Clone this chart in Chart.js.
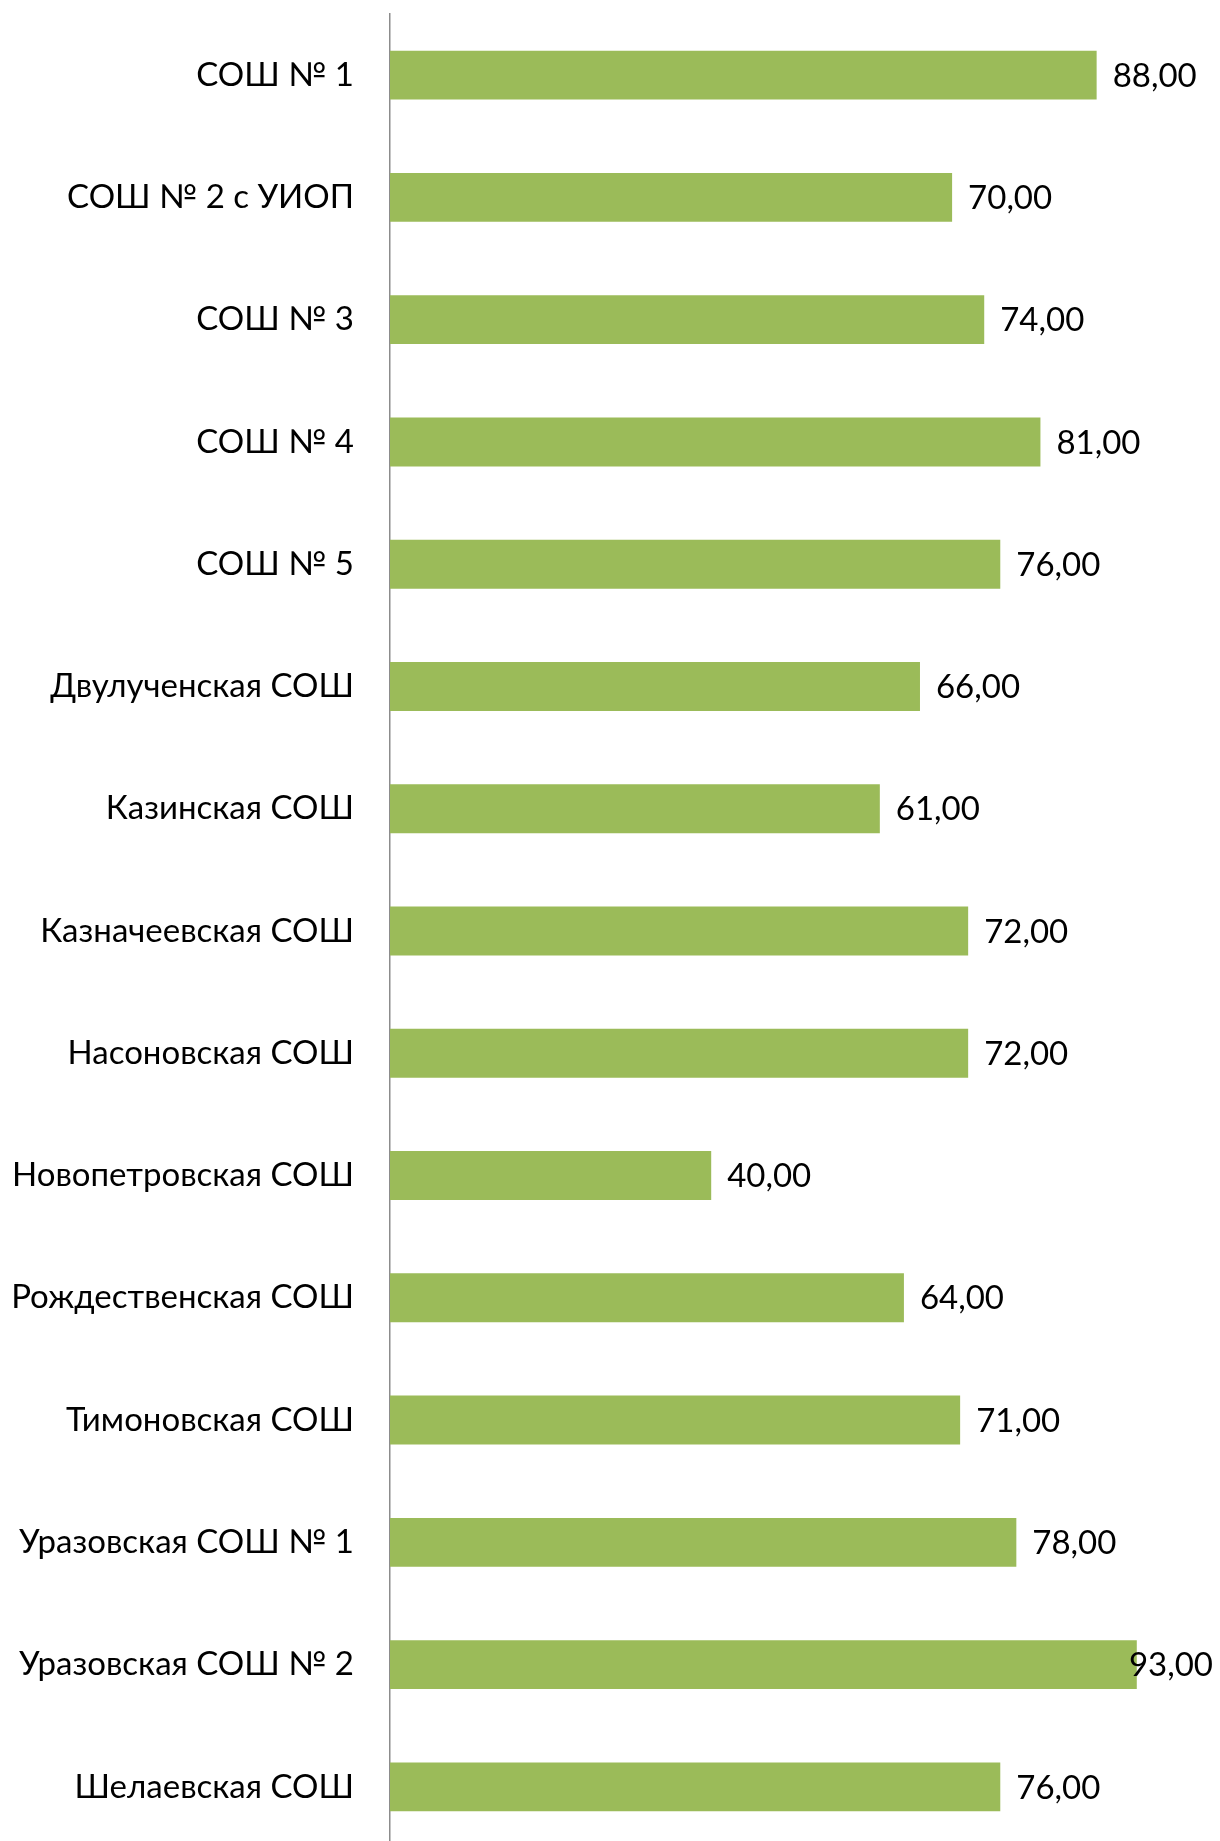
<!DOCTYPE html>
<html>
<head>
<meta charset="utf-8">
<script src="https://cdn.jsdelivr.net/npm/chart.js@4"></script>
<style>
  html, body { margin: 0; padding: 0; background: #fff; overflow: hidden; }
  #wrap { width: 1220px; height: 1850px; }
</style>
</head>
<body>
<div id="wrap"><canvas id="chart" width="1220" height="1850"></canvas></div>
<script>
// school names (top to bottom)
const schools = [
    'СОШ № 1',
    'СОШ № 2 с УИОП',
    'СОШ № 3',
    'СОШ № 4',
    'СОШ № 5',
    'Двулученская СОШ',
    'Казинская СОШ',
    'Казначеевская СОШ',
    'Насоновская СОШ',
    'Новопетровская СОШ',
    'Рождественская СОШ',
    'Тимоновская СОШ',
    'Уразовская СОШ № 1',
    'Уразовская СОШ № 2',
    'Шелаевская СОШ'
];

// values
const scores = [88, 70, 74, 81, 76, 66, 61, 72, 72, 40, 64, 71, 78, 93, 76];

const xMin = 0;
const xMax = 100;

const fontFamily = 'Lato, "Open Sans", sans-serif';
const fontSize = 33;

// draw value labels at the end of each bar, like Excel does
const valueLabels = {
    id: 'valueLabels',
    afterDatasetsDraw(chart) {
        const ctx = chart.ctx;
        const meta = chart.getDatasetMeta(0);
        ctx.save();
        ctx.font = fontSize + 'px ' + fontFamily;
        ctx.fillStyle = '#000';
        ctx.textBaseline = 'middle';
        ctx.textAlign = 'left';
        meta.data.forEach((bar, i) => {
            const text = scores[i].toFixed(2).replace('.', ',');
            const w = ctx.measureText(text).width;
            let x = bar.x + 16;
            // keep it inside the chart like the original
            if (x + w > chart.width - 7) {
                x = chart.width - 7 - w;
            }
            ctx.fillText(text, x, bar.y + 1);
        });
        ctx.restore();
    }
};

const ctx = document.getElementById('chart').getContext('2d');
new Chart(ctx, {
    type: 'bar',
    data: {
        labels: schools,
        datasets: [{
            data: scores,
            backgroundColor: '#9BBB59',
            borderWidth: 0,
            barPercentage: 0.4,
            categoryPercentage: 1.0
        }]
    },
    options: {
        indexAxis: 'y',
        responsive: false,
        animation: false,
        layout: {
            padding: { left: 0, right: 27, top: 14, bottom: 2 }
        },
        scales: {
            x: {
                display: false,
                min: xMin,
                max: xMax
            },
            y: {
                grid: { display: false, drawTicks: false },
                border: { display: true, color: '#8c8c8c', width: 1.5 },
                ticks: {
                    color: '#000',
                    padding: 36,
                    font: { family: fontFamily, size: fontSize }
                },
                afterFit(scale) {
                    scale.width = 390;
                    // no extra room above/below for the labels
                    scale.paddingTop = 0;
                    scale.paddingBottom = 0;
                }
            }
        },
        plugins: {
            legend: { display: false },
            tooltip: { enabled: false }
        }
    },
    plugins: [valueLabels]
});
</script>
</body>
</html>
